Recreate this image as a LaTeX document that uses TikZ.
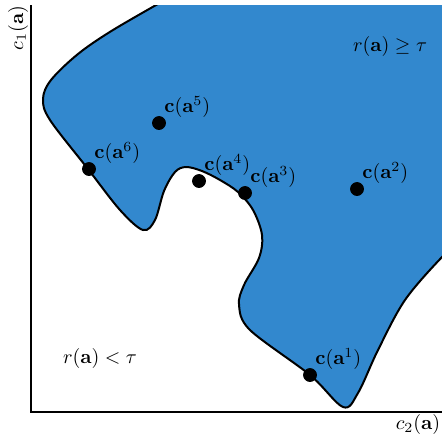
\documentclass[tikz,border=0pt]{standalone}
\usepackage{amsmath,amssymb}
\usetikzlibrary{positioning,calc}
\definecolor{regionblue}{RGB}{50,136,206}
\tikzset{
  axis/.style    = {line width=0.6pt},
  bound/.style   = {line width=1pt, fill=regionblue},
  pdot/.style    = {circle, draw, fill=black, inner sep=0pt, minimum size=6.5pt},
  lbl/.style     = {inner sep=0pt},
}

\begin{document}
\begin{tikzpicture}[x=0.5pt,y=-0.5pt]
  \useasboundingbox (0,0) rectangle (442,434);
  \coordinate (top) at (31,5);
  \coordinate (origin) at (31,412);
  \coordinate (right) at (442,412);
  \begin{scope}
    \clip (top) rectangle (right);
    \filldraw[bound] plot[smooth, tension=0.55] coordinates {
      (172,-4) (113,30) (78,54) (51,80) (43,99) (50,120) (88,169)
      (120,210) (143,230) (155,220) (164,191) (175,172) (186,167)
      (202,171) (220,180) (238,192) (253,210) (262,235) (259,258)
      (244,285) (239,305) (250,330) (310,375)
      (343,407) (358,393) (378,350) (405,300) (442,257)
      (462,240)} -- (470,-20) -- cycle;
  \end{scope}
  \draw[axis] (top) -- (origin) -- (right);
  % points on the region
  \node[pdot, label={[lbl]45:$\mathbf{c}(\mathbf{a}^1)$}] (a1) at (310,375) {};
  \node[pdot, label={[lbl]45:$\mathbf{c}(\mathbf{a}^2)$}] (a2) at (357,189) {};
  \node[pdot, label={[lbl]45:$\mathbf{c}(\mathbf{a}^3)$}] (a3) at (245,193) {};
  \node[pdot, label={[lbl]45:$\mathbf{c}(\mathbf{a}^4)$}] (a4) at (199,181) {};
  \node[pdot, label={[lbl]45:$\mathbf{c}(\mathbf{a}^5)$}] (a5) at (159,123) {};
  \node[pdot, label={[lbl]45:$\mathbf{c}(\mathbf{a}^6)$}] (a6) at (89,169) {};
  \node (feas) at (390,46) {$r(\mathbf{a}) \geq \tau$};
  \node (infeas) at (100,358) {$r(\mathbf{a}) < \tau$};
  \node[rotate=90] (ylab) at (18,28) {$c_1(\mathbf{a})$};
  \node (xlab) at (418,424) {$c_2(\mathbf{a})$};
\end{tikzpicture}
\end{document}
